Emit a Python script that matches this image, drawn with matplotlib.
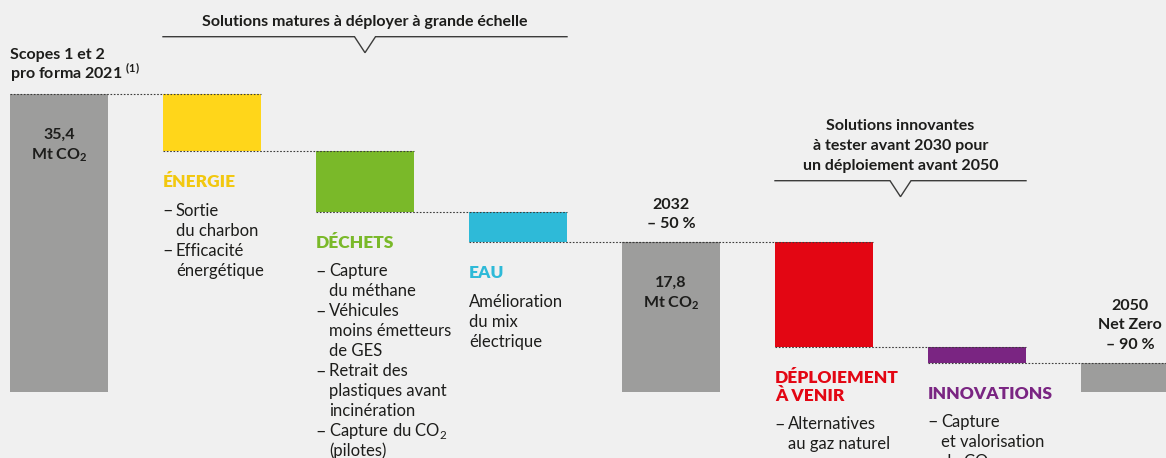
import numpy as np
import matplotlib.pyplot as plt

plt.rcParams['font.family'] = ['Lato', 'DejaVu Sans']
plt.rcParams['mathtext.fontset'] = 'custom'
plt.rcParams['mathtext.rm'] = 'Lato'
plt.rcParams['mathtext.bf'] = 'Lato:bold'

# Trajectoire des émissions (Mt CO2)
etapes = ['2021', 'Énergie', 'Déchets', 'Eau', '2032', 'Déploiement', 'Innovations', '2050']
types = ['total', 'baisse', 'baisse', 'baisse', 'total', 'baisse', 'baisse', 'total']
valeurs = [35.4, 6.8, 7.2, 3.6, 17.8, 12.5, 1.8, 3.5]
couleurs = ['#9d9d9c', '#ffd61a', '#7ab929', '#2ebad8', '#9d9d9c', '#e30613', '#7a2582', '#9d9d9c']

# Textes
titres = {1: ['ÉNERGIE'], 2: ['DÉCHETS'], 3: ['EAU'], 5: ['DÉPLOIEMENT', 'À VENIR'], 6: ['INNOVATIONS']}
couleurs_titres = {1: '#f2c80f', 2: '#7ab929', 3: '#2ebad8', 5: '#e30613', 6: '#7a2582'}
puces = {
    1: [['Sortie', 'du charbon'], ['Efficacité', 'énergétique']],
    2: [['Capture', 'du méthane'], ['Véhicules', 'moins émetteurs', 'de GES'],
        ['Retrait des', 'plastiques avant', 'incinération'], ['Capture du CO$_2$', '(pilotes)']],
    5: [['Alternatives', 'au gaz naturel']],
    6: [['Capture', 'et valorisation', 'du CO$_2$']],
}
texte_simple = {3: ['Amélioration', 'du mix', 'électrique']}
dans_barre = {0: ['35,4', r'Mt CO$_\mathbf{2}$'], 4: ['17,8', r'Mt CO$_\mathbf{2}$']}
au_dessus = {0: ['Scopes 1 et 2', r'pro forma 2021 $^{\mathbf{(1)}}$'],
             4: ['2032', '– 50 %'],
             7: ['2050', 'Net Zero', '– 90 %']}
accolades = [(1, 3, 36.7, ['Solutions matures à déployer à grande échelle']),
             (5, 6, 180.7, ['Solutions innovantes', 'à tester avant 2030 pour', 'un déploiement avant 2050'])]

# calcul des bases
bas, niveaux = [], []
niveau = 0
for t, v in zip(types, valeurs):
    if t == 'total':
        niveau = v
        bas.append(0)
    else:
        niveau -= v
        bas.append(niveau)
    niveaux.append(niveau)

fond = '#f0f0f0'
noir = '#1d1d1b'
fig = plt.figure(figsize=(11.66, 4.58), dpi=100, facecolor=fond)
ax = fig.add_axes([0, 0, 1, 1])
ax.set_facecolor(fond)
ax.set_xlim(-59 / 153, (1166 - 59) / 153)
ax.set_ylim(-66 / 8.418, 392 / 8.418)
ax.axis('off')

x = np.arange(len(etapes))
w = 98 / 153
ax.bar(x, valeurs, bottom=bas, width=w, color=couleurs, zorder=2)

# pointillés de liaison
for i in range(len(etapes) - 1):
    ax.hlines(niveaux[i], x[i] - w / 2, x[i + 1] + w / 2, colors='#3c3c3b',
              linestyles=(0, (1.5, 1.5)), lw=0.8, zorder=3)


def lignes(xy, textes, dx, dy0, pas=20, **kw):
    for k, t in enumerate(textes):
        ax.annotate(t, xy, xytext=(dx, dy0 - pas * k), textcoords='offset pixels',
                    va='baseline', **kw)


# titres et puces sous les barres
for i, tt in titres.items():
    xy = (x[i] - w / 2, bas[i])
    lignes(xy, tt, 0, -36, pas=17.5, fontsize=12.5, fontweight='heavy', color=couleurs_titres[i])
    y0 = -36 - 17.5 * (len(tt) - 1) - 28.5
    if i in puces:
        for item in puces[i]:
            ax.annotate('–', xy, xytext=(-1, y0), textcoords='offset pixels',
                        va='baseline', fontsize=13, color=noir)
            lignes(xy, item, 13, y0, fontsize=12, color=noir)
            y0 -= 20 * len(item)
    if i in texte_simple:
        lignes(xy, texte_simple[i], 0, y0, fontsize=12, color=noir)

# étiquettes des barres grises
for i, tt in dans_barre.items():
    lignes((x[i], valeurs[i]), tt, 0, -45, fontsize=11.5, fontweight='bold', color=noir, ha='center')
for i, tt in au_dessus.items():
    n = len(tt)
    if i == 0:
        lignes((x[i] - w / 2, valeurs[i]), tt, 0, 15 + 20 * (n - 1), fontsize=11.5,
               fontweight='bold', color=noir)
    else:
        lignes((x[i], valeurs[i]), tt, 0, 14 + 19.5 * (n - 1), pas=19.5, fontsize=11.5,
               fontweight='bold', color=noir, ha='center')

# accolades
fig.canvas.draw()
inv = ax.transData.inverted()
H = fig.bbox.height
sx = ax.transData.transform((1, 0))[0] - ax.transData.transform((0, 0))[0]
sy = ax.transData.transform((0, 1))[1] - ax.transData.transform((0, 0))[1]
for a, b, py, tt in accolades:
    g, d = x[a] - w / 2, x[b] + w / 2
    c = (g + d) / 2
    yl = inv.transform((0, H - py))[1]
    ax.plot([g, c - 10.5 / sx, c, c + 10.5 / sx, d], [yl, yl, yl - 16 / sy, yl, yl],
            color='#3c3c3b', lw=1, zorder=3, solid_joinstyle='miter')
    n = len(tt)
    lignes((c, yl), tt, 0, 11 + 20 * (n - 1), fontsize=11.5, fontweight='bold',
           color=noir, ha='center')

fig.savefig('out.png', dpi=100, facecolor=fond)
